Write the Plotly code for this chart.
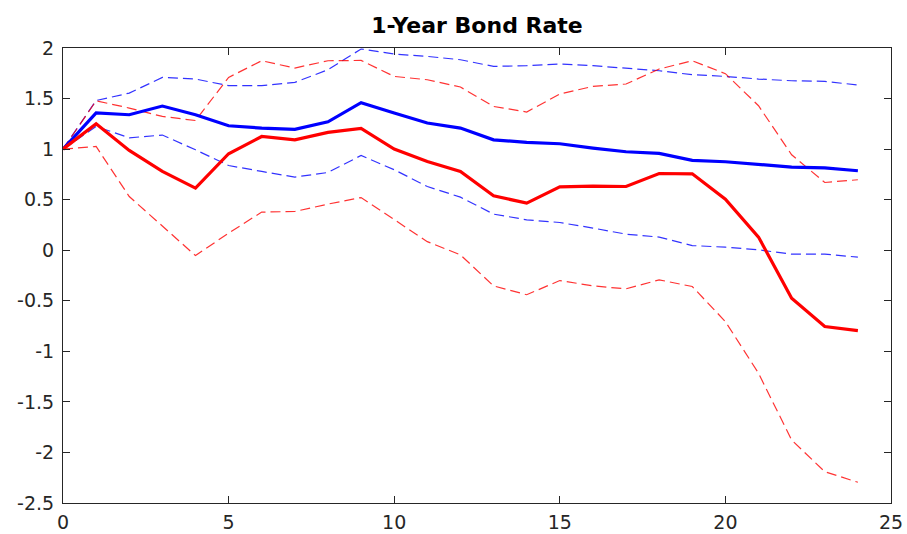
import plotly.graph_objects as go

horizon = list(range(25))

# Median responses
blue_median = [1.0, 1.357, 1.34, 1.426, 1.34, 1.231, 1.208, 1.195, 1.27, 1.459, 1.357, 1.258,
               1.208, 1.092, 1.066, 1.053, 1.01, 0.974, 0.957, 0.888, 0.875, 0.852, 0.822, 0.815, 0.786]
red_median = [1.0, 1.251, 0.987, 0.779, 0.614, 0.954, 1.125, 1.092, 1.165, 1.204, 1.0, 0.878,
              0.779, 0.538, 0.466, 0.627, 0.634, 0.63, 0.759, 0.756, 0.505, 0.13, -0.474, -0.755, -0.795]

# Confidence bands
blue_upper = [1.0, 1.481, 1.554, 1.709, 1.693, 1.627, 1.627, 1.66, 1.785, 1.99, 1.94, 1.917,
              1.884, 1.818, 1.825, 1.842, 1.825, 1.802, 1.775, 1.736, 1.719, 1.693, 1.676, 1.67, 1.634]
blue_lower = [1.0, 1.224, 1.112, 1.139, 0.993, 0.838, 0.779, 0.723, 0.769, 0.937, 0.796, 0.63,
              0.525, 0.357, 0.301, 0.274, 0.219, 0.159, 0.13, 0.046, 0.03, 0.004, -0.039, -0.039, -0.068]
red_upper = [1.0, 1.478, 1.406, 1.323, 1.283, 1.709, 1.874, 1.802, 1.874, 1.877, 1.719, 1.686,
             1.614, 1.422, 1.367, 1.545, 1.62, 1.644, 1.792, 1.874, 1.746, 1.429, 0.944, 0.67, 0.697]
red_lower = [1.0, 1.026, 0.531, 0.234, -0.053, 0.169, 0.377, 0.383, 0.456, 0.521, 0.301, 0.085,
             -0.046, -0.353, -0.44, -0.3, -0.353, -0.382, -0.293, -0.359, -0.706, -1.217, -1.877, -2.19, -2.295]

x_ticks = [0, 5, 10, 15, 20, 25]
y_ticks = [-2.5, -2, -1.5, -1, -0.5, 0, 0.5, 1, 1.5, 2]

BLUE = "rgb(0,0,255)"
RED = "rgb(255,0,0)"
AXIS = "rgb(38,38,38)"
DASH = "10px,5px"
FONT = "DejaVu Sans, Liberation Sans, Arial, sans-serif"

fig = go.Figure()
for ys, col in [(blue_upper, BLUE), (blue_lower, BLUE), (red_upper, RED), (red_lower, RED)]:
    fig.add_trace(go.Scatter(x=horizon, y=ys, mode="lines",
                             line=dict(color=col, width=1.2, dash=DASH),
                             opacity=0.8, showlegend=False, hoverinfo="skip"))
fig.add_trace(go.Scatter(x=horizon, y=blue_median, mode="lines",
                         line=dict(color=BLUE, width=3.2), showlegend=False))
fig.add_trace(go.Scatter(x=horizon, y=red_median, mode="lines",
                         line=dict(color=RED, width=3.2), showlegend=False))

axis_common = dict(
    showgrid=False, zeroline=False, showline=True, linecolor=AXIS, linewidth=1,
    mirror="allticks", ticks="inside", ticklen=7, tickcolor=AXIS, tickwidth=1,
    tickfont=dict(family=FONT, size=19, color=AXIS),
    automargin=False,
)

fig.update_xaxes(range=[0, 25], tickvals=x_ticks, ticktext=[str(v) for v in x_ticks],
                 ticklabelstandoff=2, **axis_common)
fig.update_yaxes(range=[-2.5, 2], tickvals=y_ticks,
                 ticktext=[("%g" % v) for v in y_ticks], ticklabelstandoff=4, **axis_common)

fig.update_layout(
    width=907, height=534,
    margin=dict(l=63, r=16, t=48, b=31, autoexpand=False),
    plot_bgcolor="white", paper_bgcolor="white",
    title=dict(text="<b>1-Year Bond Rate</b>", x=0.5, xanchor="center",
               xref="paper", y=(534 - 25) / 534, yref="container", yanchor="middle",
               font=dict(family=FONT, size=22, color="black")),
)

fig.write_html("out.html")
